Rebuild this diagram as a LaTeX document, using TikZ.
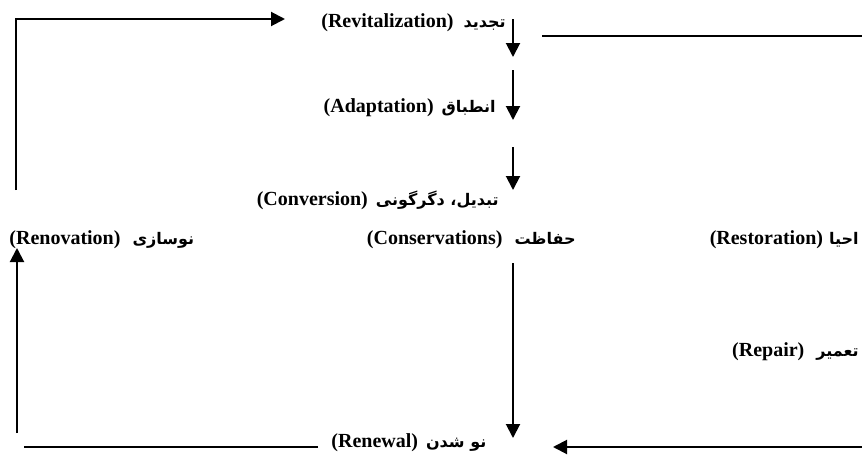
\documentclass[tikz,border=0pt]{standalone}
\usepackage{fontspec}
\setmainfont{Liberation Serif}
\newfontfamily\arabicfont[Script=Arabic,Scale=0.8]{DejaVu Sans}
\TeXXeTstate=1
\usepackage{tikz}
\usetikzlibrary{positioning,arrows.meta}

\newcommand{\fa}[1]{{\arabicfont\beginR #1\endR}}

\begin{document}
\begin{tikzpicture}[
    x=0.5pt, y=-0.5pt,
    term/.style={inner sep=0pt, font=\fontsize{10}{12}\selectfont\bfseries},
    arrow/.style={-{Triangle[length=7pt,width=7pt]}, line width=1pt},
    line/.style={line width=1pt}
]
    \useasboundingbox (0,0) rectangle (862,455);

    % Nodes
    \node[term, anchor=east] (revit) at (506,23) {(Revitalization)\hspace{5pt}\fa{تجدید}};
    \node[term, anchor=east] (adapt) at (496,108) {(Adaptation)\hspace{4pt}\fa{انطباق}};
    \node[term, anchor=east] (conv) at (499,200) {(Conversion)\hspace{4pt}\fa{تبدیل، دگرگونی}};
    \node[term, anchor=west] (renov) at (9,240) {(Renovation)\hspace{6pt}\fa{نوسازی}};
    \node[term, anchor=east] (conserv) at (576,240) {(Conservations)\hspace{6pt}\fa{حفاظت}};
    \node[term, anchor=east] (restor) at (859,240) {(Restoration)\hspace{3pt}\fa{احیا}};
    \node[term, anchor=east] (repair) at (859,352) {(Repair)\hspace{6pt}\fa{تعمیر}};
    \node[term, anchor=west] (renew) at (331,443) {(Renewal)\hspace{4pt}\fa{نو شدن}};

    % free ends
    \coordinate (loopL) at (16,190);
    \coordinate (loopT) at (285,19);
    \coordinate (topR) at (870,36);
    \coordinate (topM) at (542,36);
    \coordinate (botL) at (318,447);
    \coordinate (botLL) at (24,447);
    \coordinate (upS) at (17,433);
    \coordinate (upE) at (17,248);
    \coordinate (botR) at (870,447);
    \coordinate (botM) at (553,447);

    % Arrows
    \draw[arrow] (loopL) |- (loopT);
    \draw[line] (topR) -- (topM);
    \draw[arrow] (513,19) -- (513,57);
    \draw[arrow] (513,70) -- (513,120);
    \draw[arrow] (513,147) -- (513,190);
    \draw[arrow] (513,263) -- (513,438);
    \draw[line] (botL) -- (botLL);
    \draw[arrow] (upS) -- (upE);
    \draw[arrow] (botR) -- (botM);
\end{tikzpicture}
\end{document}
